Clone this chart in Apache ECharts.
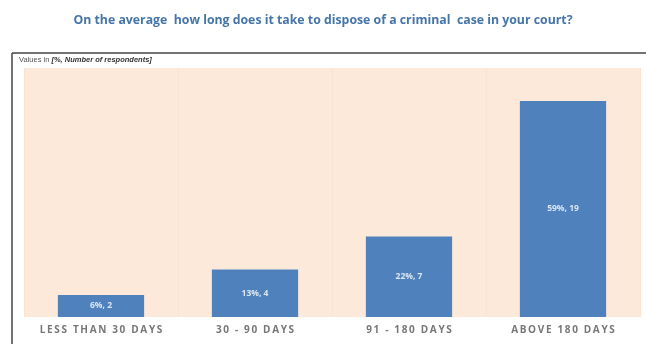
<!DOCTYPE html>
<html><head><meta charset="utf-8">
<script src="https://cdn.jsdelivr.net/npm/echarts@6/dist/echarts.min.js"></script>
<style>html,body{margin:0;padding:0;background:#fff}#c{width:646px;height:344px}</style>
</head><body><div id="c"></div>
<script>
var categories = ['LESS THAN 30 DAYS', '30 - 90 DAYS', '91 - 180 DAYS', 'ABOVE 180 DAYS'];
var percents = [6, 13, 22, 59];
var respondents = [2, 4, 7, 19];
var titleText = 'On the average  how long does it take to dispose of a criminal  case in your court?';

var chart = echarts.init(document.getElementById('c'));
chart.setOption({
  animation: false,
  backgroundColor: '#ffffff',
  title: {
    text: titleText, left: 'center', top: 9,
    textStyle: { fontFamily: 'Open Sans', fontSize: 12.3, fontWeight: 'bold', color: '#4676a8' }
  },
  graphic: [
    { type: 'line', shape: { x1: 12, y1: 53, x2: 646, y2: 53 }, style: { stroke: '#444', lineWidth: 1.5 } },
    { type: 'line', shape: { x1: 12, y1: 53, x2: 12, y2: 344 }, style: { stroke: '#444', lineWidth: 1.5 } },
    { type: 'text', left: 19, top: 56, style: {
        text: '{n|Values in }{b|[%, Number of respondents]}',
        rich: {
          n: { fontFamily: 'Liberation Sans', fontSize: 7.5, fill: '#555' },
          b: { fontFamily: 'Liberation Sans', fontSize: 7.5, fontWeight: 'bold', fontStyle: 'italic', fill: '#333' }
        } } }
  ],
  grid: { left: 24, right: 6, top: 68, bottom: 27, backgroundColor: '#fde9d9', show: true, borderWidth: 0 },
  xAxis: {
    type: 'category', data: categories,
    axisLine: { show: false }, axisTick: { show: false },
    splitLine: { show: true, lineStyle: { color: '#fbe3d2', width: 1 } },
    axisLabel: { interval: 0, hideOverlap: false, margin: 8, fontFamily: 'Open Sans', fontSize: 10, fontWeight: 'bold', color: '#777777',
      formatter: function (v) { return v.split('').join('\u2009'); } }
  },
  yAxis: { type: 'value', min: 0, max: 68, show: false, splitLine: { show: false } },
  series: [{
    type: 'bar', data: percents, barWidth: '56%',
    itemStyle: { color: '#4f81bd' },
    label: {
      show: true, position: 'inside', fontFamily: 'Open Sans', fontSize: 8.5, fontWeight: 'bold', color: '#dce6f2',
      formatter: function (p) { return percents[p.dataIndex] + '%, ' + respondents[p.dataIndex]; }
    }
  }]
});
</script></body></html>
